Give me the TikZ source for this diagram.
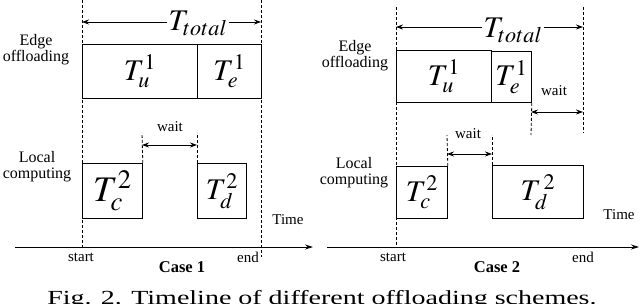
\documentclass[tikz,border=0pt]{standalone}
\usepackage{mathptmx}
\usepackage{fontspec}
\setmainfont{Liberation Serif}
\usetikzlibrary{arrows.meta}

\tikzset{TLbox/.style={draw,thick,anchor=north west,inner sep=0pt,font=\fontsize{30}{30}\selectfont},
         TLdash/.style={densely dashed,thick},
         TLarr/.style={thick,{Stealth[length=7pt,width=5pt]}-{Stealth[length=7pt,width=5pt]}},
         TLlab/.style={font=\fontsize{16}{16}\selectfont,align=center},
         TLsmall/.style={font=\fontsize{15}{15}\selectfont,inner sep=1pt},
         TLtot/.style={font=\fontsize{30}{30}\selectfont,inner sep=1pt}}

\begin{document}
\begin{tikzpicture}[x=1pt,y=-1pt]
  \useasboundingbox (0,0) rectangle (640,304);
  % Case 1
  \node[TLlab] (edge1) at (36,50) {Edge\\offloading};
  \node[TLlab] (loc1) at (37,167) {Local\\computing};
  \node[TLbox,minimum width=115pt,minimum height=54pt] (u1) at (82,44) {$T_u^1$};
  \node[TLbox,minimum width=64pt,minimum height=54pt] (e1) at (197,44) {$T_e^1$};
  \node[TLbox,minimum width=60pt,minimum height=55pt,font=\fontsize{36}{36}\selectfont] (c1) at (82,163) {$T_c^2$};
  \node[TLbox,minimum width=49pt,minimum height=55pt] (d1) at (197,163) {$T_d^2$};
  \coordinate (s1top) at (82,0); \coordinate (s1bot) at (82,247);
  \coordinate (f1top) at (261,0); \coordinate (f1bot) at (261,257);
  \draw[TLdash] (s1top) -- (s1bot);
  \draw[TLdash] (f1top) -- (f1bot);
  \node[TLtot] (tot1) at (198,23) {$T_{total}$};
  \coordinate (t1l) at (82,22); \coordinate (t1r) at (261,22);
  \draw[thick,-{Stealth[length=7pt,width=5pt]}] (tot1.west |- t1l) -- (t1l);
  \draw[thick,-{Stealth[length=7pt,width=5pt]}] (tot1.east |- t1r) -- (t1r);
  \coordinate (w1l) at (142,133); \coordinate (w1r) at (197,133);
  \draw[TLdash] (c1.north east) -- (w1l);
  \draw[TLdash] (d1.north west) -- (w1r);
  \coordinate (w1a) at (142,145); \coordinate (w1b) at (197,145);
  \draw[TLarr] (w1a) -- (w1b);
  \node[TLsmall] (wait1) at (170,127) {wait};
  \coordinate (ax1l) at (15,247); \coordinate (ax1r) at (313,247);
  \draw[thick,-{Stealth[length=8pt,width=5pt]}] (ax1l) -- (ax1r);
  \node[TLsmall] (time1) at (288,220) {Time};
  \node[TLsmall] (start1) at (81,257) {start};
  \node[TLsmall] (end1) at (248,257) {end};
  \node[TLsmall,font=\fontsize{16.5}{17}\selectfont\bfseries] (case1) at (182,267) {Case 1};
  % Case 2
  \node[TLlab] (edge2) at (355,56) {Edge\\offloading};
  \node[TLlab] (loc2) at (354,173) {Local\\computing};
  \node[TLbox,minimum width=95pt,minimum height=52pt] (u2) at (396,50) {$T_u^1$};
  \node[TLbox,minimum width=40pt,minimum height=51pt] (e2) at (491,51) {$T_e^1$};
  \node[TLbox,minimum width=51pt,minimum height=52pt] (c2) at (396,166) {$T_c^2$};
  \node[TLbox,minimum width=91pt,minimum height=53pt] (d2) at (492,165) {$T_d^{\,2}$};
  \coordinate (s2top) at (396,7); \coordinate (s2bot) at (396,247);
  \coordinate (f2top) at (583,7); \coordinate (f2bot) at (583,133);
  \draw[TLdash] (s2top) -- (s2bot);
  \draw[TLdash] (f2top) -- (f2bot);
  \node[TLtot] (tot2) at (513,30) {$T_{total}$};
  \coordinate (t2l) at (396,27); \coordinate (t2r) at (583,27);
  \draw[thick,-{Stealth[length=7pt,width=5pt]}] (tot2.west |- t2l) -- (t2l);
  \draw[thick,-{Stealth[length=7pt,width=5pt]}] (tot2.east |- t2r) -- (t2r);
  \coordinate (w2t) at (531,135);
  \draw[TLdash] (e2.south east) -- (w2t);
  \coordinate (w2a) at (531,112); \coordinate (w2b) at (583,112);
  \draw[TLarr] (w2a) -- (w2b);
  \node[TLsmall] (wait2) at (554,91) {wait};
  \coordinate (w3l) at (447,135); \coordinate (w3r) at (492,135);
  \draw[TLdash] (c2.north east) -- (w3l);
  \draw[TLdash] (d2.north west) -- (w3r);
  \coordinate (w3a) at (447,154); \coordinate (w3b) at (492,154);
  \draw[TLarr] (w3a) -- (w3b);
  \node[TLsmall] (wait3) at (468,134) {wait};
  \coordinate (ax2l) at (327,247); \coordinate (ax2r) at (639,247);
  \draw[thick,-{Stealth[length=8pt,width=5pt]}] (ax2l) -- (ax2r);
  \node[TLsmall] (time2) at (619,215) {Time};
  \node[TLsmall] (start2) at (393,257) {start};
  \node[TLsmall] (end2) at (583,257) {end};
  \node[TLsmall,font=\fontsize{16.5}{17}\selectfont\bfseries] (case2) at (497,267) {Case 2};
  % caption
  \node[font=\fontsize{20}{24}\selectfont,anchor=base west,inner sep=0pt,xscale=1.4,transform shape] (cap) at (47,305) {Fig. 2. Timeline of different offloading schemes.};
\end{tikzpicture}
\end{document}
